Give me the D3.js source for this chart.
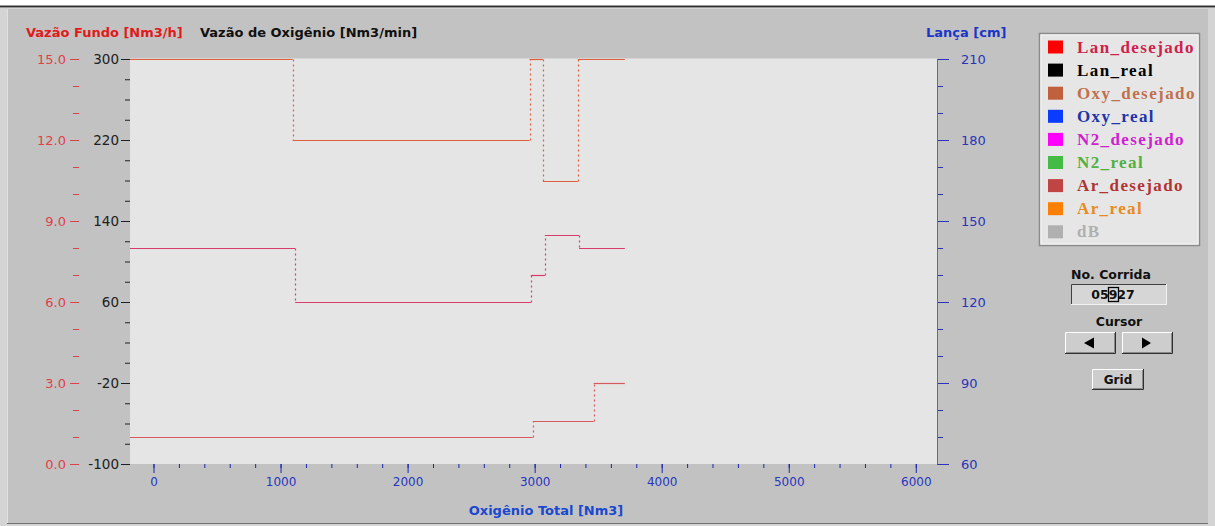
<!DOCTYPE html>
<html><head><meta charset="utf-8">
<script src="https://cdn.jsdelivr.net/npm/d3@7"></script>
<style>body{margin:0;background:#fff;} svg{display:block;}</style>
</head><body><svg id="c" width="1215" height="526"></svg>
<script>
// ---------- data ----------
const redTicks = [0, 3, 6, 9, 12, 15];            // Vazão Fundo [Nm3/h]
const redLabels = ["0.0", "3.0", "6.0", "9.0", "12.0", "15.0"];
const blackTicks = [-100, -20, 60, 140, 220, 300]; // Vazão de Oxigênio [Nm3/min]
const rightTicks = [60, 90, 120, 150, 180, 210];   // Lança [cm]
const xTicks = [0, 1000, 2000, 3000, 4000, 5000, 6000]; // Oxigênio Total [Nm3]

const legendNames = ["Lan_desejado", "Lan_real", "Oxy_desejado", "Oxy_real", "N2_desejado", "N2_real", "Ar_desejado", "Ar_real", "dB"];
const legendSwatch = ["#ff0000", "#000000", "#c0603c", "#0a3cff", "#ff00ff", "#44bb44", "#c04444", "#ff8000", "#b0b0b0"];
const legendTextColor = ["#d0204c", "#000000", "#c0704c", "#2233a8", "#d020d0", "#50b040", "#b03434", "#e88a20", "#b0b0b0"];

// step series: breakpoints (Oxigênio Total) and the value held between them
const oxyX = [-185, 1095, 2960, 3065, 3340, 3710];
const oxyV = [300, 220, 300, 180, 300];            // black (left inner) scale
const lanX = [-185, 1115, 2970, 3080, 3350, 3710];
const lanV = [140, 120, 130, 145, 140];            // right scale (Lança)
const fundoX = [-185, 2985, 3465, 3710];
const fundoV = [1.0, 1.6, 3.0];                    // red scale (Vazão Fundo)

// ---------- layout ----------
const svg = d3.select("#c");
const P = {l: 130, r: 937, t: 59, b: 464};
const x = d3.scaleLinear([-185, 6167], [P.l, P.r]);
const yRed = d3.scaleLinear([0, 15], [P.b, P.t]);
const yBlack = d3.scaleLinear([-100, 300], [P.b, P.t]);
const yRight = d3.scaleLinear([60, 210], [P.b, P.t]);
const plain = d => String(d);

// window background
svg.append("rect").attr("x", 0).attr("y", 0).attr("width", 1215).attr("height", 526).attr("fill", "#ffffff");
svg.append("rect").attr("x", 0).attr("y", 8).attr("width", 1215).attr("height", 518).attr("fill", "#d4d4d4");
svg.append("line").attr("x1", 0).attr("x2", 1215).attr("y1", 6.5).attr("y2", 6.5).attr("stroke", "#303030").attr("stroke-width", 2);
svg.append("rect").attr("x", 7).attr("y", 9).attr("width", 1201).attr("height", 514).attr("fill", "#c2c2c2");
svg.append("line").attr("x1", 7).attr("x2", 1208).attr("y1", 523.5).attr("y2", 523.5).attr("stroke", "#707070");
svg.append("line").attr("x1", 7.5).attr("x2", 7.5).attr("y1", 9).attr("y2", 523).attr("stroke", "#e0e0e0");

// plot area
svg.append("rect").attr("x", P.l).attr("y", P.t - 0.5).attr("width", P.r - P.l).attr("height", P.b - P.t + 0.5).attr("fill", "#e5e5e5");

const numFont = "DejaVu Sans, Verdana, sans-serif";

function styleAxis(g, color, fs) {
  g.select(".domain").remove();
  g.selectAll("line").attr("stroke", color);
  g.selectAll("text").attr("fill", color).attr("font-family", numFont).attr("font-size", fs);
}

// red axis (Vazão Fundo)
const gRedMinor = svg.append("g").attr("transform", "translate(79,0)")
  .call(d3.axisLeft(yRed).tickValues(d3.range(0, 15.01, 1)).tickSize(6).tickFormat(""));
styleAxis(gRedMinor, "#e04048", 13);
const gRed = svg.append("g").attr("transform", "translate(79,0)")
  .call(d3.axisLeft(yRed).tickValues(redTicks).tickSize(9).tickPadding(4).tickFormat((d, i) => redLabels[i]));
styleAxis(gRed, "#e04048", 13);

// black axis (Vazão de Oxigênio)
const gBlackMinor = svg.append("g").attr("transform", `translate(${P.l},0)`)
  .call(d3.axisLeft(yBlack).tickValues(d3.range(-100, 301, 20)).tickSize(5).tickFormat(""));
styleAxis(gBlackMinor, "#202020", 13);
const gBlack = svg.append("g").attr("transform", `translate(${P.l},0)`)
  .call(d3.axisLeft(yBlack).tickValues(blackTicks).tickSize(9).tickPadding(2).tickFormat(plain));
styleAxis(gBlack, "#202020", 13.5);

// right axis (Lança)
const gRightMinor = svg.append("g").attr("transform", `translate(${P.r},0)`)
  .call(d3.axisRight(yRight).tickValues(d3.range(60, 211, 10)).tickSize(6).tickFormat(""));
styleAxis(gRightMinor, "#2a34b8", 13);
const gRight = svg.append("g").attr("transform", `translate(${P.r},0)`)
  .call(d3.axisRight(yRight).tickValues(rightTicks).tickSize(12).tickPadding(12).tickFormat(plain));
styleAxis(gRight, "#2a34b8", 13);
svg.append("line").attr("x1", P.r + 0.5).attr("x2", P.r + 0.5).attr("y1", P.t).attr("y2", P.b + 0.5).attr("stroke", "#6a6a80");

// x axis
const gXMinor = svg.append("g").attr("transform", `translate(0,${P.b})`)
  .call(d3.axisBottom(x).tickValues(d3.range(0, 6001, 200)).tickSize(4).tickFormat(""));
styleAxis(gXMinor, "#1a28b0", 12);
const gX = svg.append("g").attr("transform", `translate(0,${P.b})`)
  .call(d3.axisBottom(x).tickValues(xTicks).tickSize(9).tickPadding(4).tickFormat(plain));
styleAxis(gX, "#1a28b0", 12);
gX.selectAll("text").attr("fill", "#2636c0");

// titles
const bold = "DejaVu Sans, Verdana, sans-serif";
svg.append("text").attr("x", 26).attr("y", 37).text("Vazão Fundo [Nm3/h]")
  .attr("font-family", bold).attr("font-weight", "bold").attr("font-size", 13).attr("fill", "#e01a1a");
svg.append("text").attr("x", 200).attr("y", 37).text("Vazão de Oxigênio [Nm3/min]")
  .attr("font-family", bold).attr("font-weight", "bold").attr("font-size", 13).attr("fill", "#101010");
svg.append("text").attr("x", 926).attr("y", 37).text("Lança [cm]")
  .attr("font-family", bold).attr("font-weight", "bold").attr("font-size", 13).attr("fill", "#1a36c8");
svg.append("text").attr("x", 546).attr("y", 515).attr("text-anchor", "middle").text("Oxigênio Total [Nm3]")
  .attr("font-family", bold).attr("font-weight", "bold").attr("font-size", 13).attr("fill", "#1a48d0");

// ---------- series ----------
function drawSteps(xs, vs, yScale, color) {
  const g = svg.append("g");
  const py = v => Math.round(yScale(v)) + 0.5;
  vs.forEach((v, i) => {
    g.append("line").attr("x1", x(xs[i])).attr("x2", x(xs[i + 1]))
      .attr("y1", py(v)).attr("y2", py(v)).attr("stroke", color).attr("stroke-width", 1.2);
    if (i < vs.length - 1) {
      const xv = Math.round(x(xs[i + 1])) + 0.5;
      g.append("line").attr("x1", xv).attr("x2", xv)
        .attr("y1", py(v)).attr("y2", py(vs[i + 1])).attr("stroke", color)
        .attr("stroke-width", 1.2).attr("stroke-dasharray", "2,3");
    }
  });
}
drawSteps(oxyX, oxyV, yBlack, "#e0603c");
drawSteps(lanX, lanV, yRight, "#d83c6a");
drawSteps(fundoX, fundoV, yRed, "#d45a5e");

// ---------- legend ----------
const L = {x: 1039, y: 33, w: 160, h: 212};
svg.append("rect").attr("x", L.x + 0.5).attr("y", L.y + 0.5).attr("width", L.w).attr("height", L.h)
  .attr("fill", "#e6e6e6").attr("stroke", "#8a8a8a").attr("stroke-width", 1.5);
svg.append("rect").attr("x", L.x + 2).attr("y", L.y + 2).attr("width", L.w - 3).attr("height", L.h - 3)
  .attr("fill", "none").attr("stroke", "#f4f4f4").attr("stroke-width", 1);
const lg = svg.append("g");
legendNames.forEach((name, i) => {
  const cy = 47.5 + i * 23.1;
  lg.append("rect").attr("x", 1048).attr("y", cy - 7).attr("width", 15).attr("height", 13).attr("fill", legendSwatch[i]);
  lg.append("text").attr("x", 1077).attr("y", cy + 5).text(name)
    .attr("font-family", "Liberation Serif, Times New Roman, serif").attr("font-weight", "bold")
    .attr("font-size", 17).attr("letter-spacing", 1.4).attr("fill", legendTextColor[i]);
});

// ---------- controls ----------
function button(x0, y0, w, h) {
  svg.append("rect").attr("x", x0).attr("y", y0).attr("width", w).attr("height", h).attr("fill", "#cdcdcd");
  svg.append("path").attr("d", `M${x0 + 0.5},${y0 + h}V${y0 + 0.5}H${x0 + w}`).attr("stroke", "#ffffff").attr("fill", "none");
  svg.append("path").attr("d", `M${x0},${y0 + h - 0.5}H${x0 + w - 0.5}V${y0}`).attr("stroke", "#303030").attr("fill", "none");
  svg.append("path").attr("d", `M${x0 + 1},${y0 + h - 1.5}H${x0 + w - 1.5}V${y0 + 1}`).attr("stroke", "#8a8a8a").attr("fill", "none");
}
const uiFont = "DejaVu Sans, Verdana, sans-serif";
svg.append("text").attr("x", 1111).attr("y", 279).attr("text-anchor", "middle").text("No. Corrida")
  .attr("font-family", uiFont).attr("font-weight", "bold").attr("font-size", 12.5).attr("fill", "#101010");
// text box (sunken)
svg.append("rect").attr("x", 1071).attr("y", 284).attr("width", 96).attr("height", 21).attr("fill", "#d6d6d6");
svg.append("path").attr("d", "M1071.5,305V284.5H1167").attr("stroke", "#404040").attr("fill", "none");
svg.append("path").attr("d", "M1071,304.5H1166.5V284").attr("stroke", "#f2f2f2").attr("fill", "none");
const runText = svg.append("text").attr("x", 1113).attr("y", 299).attr("text-anchor", "middle").text("05927")
  .attr("font-family", uiFont).attr("font-weight", "bold").attr("font-size", 12.5).attr("fill", "#101010");
const ext = runText.node().getExtentOfChar(2);
svg.append("rect").attr("x", Math.round(ext.x) - 0.5).attr("y", 287.5).attr("width", Math.round(ext.width) + 1).attr("height", 14)
  .attr("fill", "none").attr("stroke", "#000").attr("stroke-width", 1.3);

svg.append("text").attr("x", 1119).attr("y", 326).attr("text-anchor", "middle").text("Cursor")
  .attr("font-family", uiFont).attr("font-weight", "bold").attr("font-size", 12.5).attr("fill", "#101010");
button(1065, 332, 51, 22);
button(1122, 332, 51, 22);
svg.append("path").attr("d", "M1084,343L1094,337.5V348.5Z").attr("fill", "#000");
svg.append("path").attr("d", "M1151,343L1142,337.5V348.5Z").attr("fill", "#000");
button(1092, 369, 52, 21);
svg.append("text").attr("x", 1118).attr("y", 384).attr("text-anchor", "middle").text("Grid")
  .attr("font-family", uiFont).attr("font-weight", "bold").attr("font-size", 12).attr("fill", "#101010");
</script></body></html>
